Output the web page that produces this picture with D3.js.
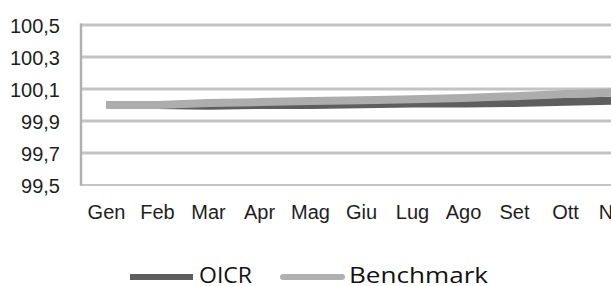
<!DOCTYPE html>
<html>
<head>
<meta charset="utf-8">
<script src="https://cdn.jsdelivr.net/npm/d3@7"></script>
<style>
  html, body { margin: 0; padding: 0; background: #fff; }
  svg { display: block; }
  .tick-label { font-family: "Liberation Sans", Arial, sans-serif; font-size: 20px; fill: #1e1e1e; }
  .legend-label { font-family: "Open Sans", "Noto Sans", sans-serif; font-size: 22px; fill: #111; }
</style>
</head>
<body>
<div id="chart"></div>
<script>
const months = ['Gen', 'Feb', 'Mar', 'Apr', 'Mag', 'Giu', 'Lug', 'Ago', 'Set', 'Ott', 'Nov', 'Dic'];
const oicrValues = [100.00, 100.00, 99.995, 100.00, 100.00, 100.005, 100.01, 100.01, 100.012, 100.02, 100.027, 100.03];
const benchmarkValues = [100.00, 100.00, 100.012, 100.018, 100.025, 100.03, 100.036, 100.044, 100.055, 100.068, 100.078, 100.085];
const yTicks = [99.5, 99.7, 99.9, 100.1, 100.3, 100.5];

const width = 611;
const height = 286;
const plot = { left: 81, top: 25, bottom: 185, band: 51 };

const itFormat = d3.formatLocale({ decimal: ',', thousands: '.', grouping: [3], currency: ['€', ''] }).format('.1f');

const svg = d3.select('#chart')
    .append('svg')
    .attr('width', width)
    .attr('height', height);

const x = d3.scaleBand()
    .domain(months)
    .range([plot.left, plot.left + plot.band * months.length]);

const y = d3.scaleLinear()
    .domain([99.5, 100.5])
    .range([plot.bottom, plot.top]);

// gridlines
svg.append('g')
    .selectAll('line')
    .data(yTicks.slice(1))
    .enter().append('line')
    .attr('x1', plot.left)
    .attr('x2', width)
    .attr('y1', d => y(d))
    .attr('y2', d => y(d))
    .attr('stroke', '#c3c3c3')
    .attr('stroke-width', 3);

// bottom axis line
svg.append('line')
    .attr('x1', plot.left)
    .attr('x2', width)
    .attr('y1', y(99.5))
    .attr('y2', y(99.5))
    .attr('stroke', '#b0b0b0')
    .attr('stroke-width', 1.5);

// left axis line
svg.append('line')
    .attr('x1', plot.left)
    .attr('x2', plot.left)
    .attr('y1', y(100.5) - 1.5)
    .attr('y2', y(99.5) + 0.75)
    .attr('stroke', '#b0b0b0')
    .attr('stroke-width', 2.5);

// y tick labels
svg.append('g')
    .selectAll('text')
    .data(yTicks)
    .enter().append('text')
    .attr('class', 'tick-label')
    .attr('x', 60)
    .attr('y', d => y(d) + 8)
    .attr('text-anchor', 'end')
    .text(d => itFormat(d));

// x tick labels
svg.append('g')
    .selectAll('text')
    .data(months)
    .enter().append('text')
    .attr('class', 'tick-label')
    .attr('x', d => x(d) + x.bandwidth() / 2)
    .attr('y', 219)
    .attr('text-anchor', 'middle')
    .text(d => d);

const line = d3.line()
    .x((d, i) => x(months[i]) + x.bandwidth() / 2)
    .y(d => y(d));

const series = [
    { name: 'OICR', values: oicrValues, color: '#5e5e5e' },
    { name: 'Benchmark', values: benchmarkValues, color: '#adadad' }
];

svg.append('g')
    .selectAll('path')
    .data(series)
    .enter().append('path')
    .attr('d', d => line(d.values))
    .attr('fill', 'none')
    .attr('stroke', d => d.color)
    .attr('stroke-width', 8)
    .attr('stroke-linejoin', 'round');

// legend
const legend = [
    { name: 'OICR', color: '#5e5e5e', x1: 130, x2: 193, tx: 199, tw: 53, cap: 'butt' },
    { name: 'Benchmark', color: '#b0b0b0', x1: 283, x2: 342, tx: 349, tw: 139, cap: 'round' }
];

const lg = svg.append('g')
    .selectAll('g')
    .data(legend)
    .enter().append('g');

lg.append('line')
    .attr('x1', d => d.x1)
    .attr('x2', d => d.x2)
    .attr('y1', 277)
    .attr('y2', 277)
    .attr('stroke', d => d.color)
    .attr('stroke-width', 6)
    .attr('stroke-linecap', d => d.cap);

lg.append('text')
    .attr('class', 'legend-label')
    .attr('x', d => d.tx)
    .attr('y', 283)
    .attr('textLength', d => d.tw)
    .attr('lengthAdjust', 'spacingAndGlyphs')
    .text(d => d.name);
</script>
</body>
</html>
